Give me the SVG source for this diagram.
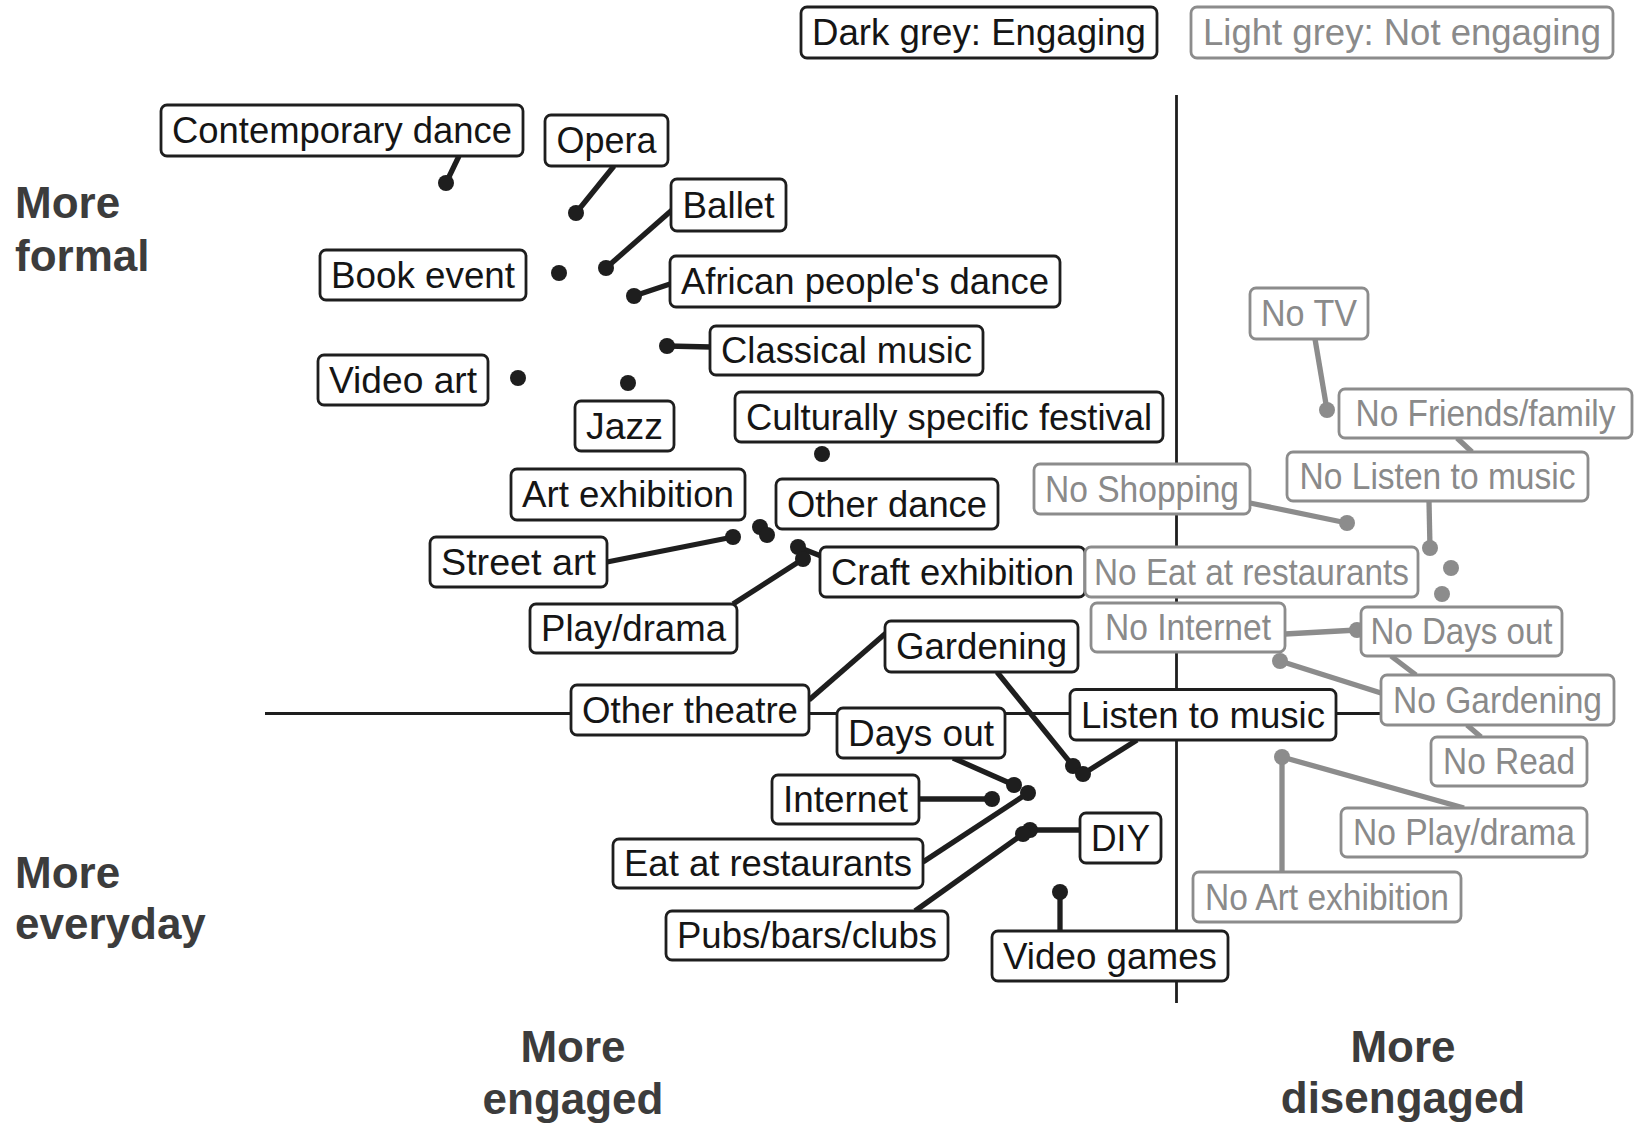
<svg xmlns="http://www.w3.org/2000/svg" width="1634" height="1125" viewBox="0 0 1634 1125">
<style>
.bd{fill:#fff;stroke:#1e1e1e;stroke-width:2.8}
.bl{fill:#fff;stroke:#8c8c8c;stroke-width:2.8}
.td{font-family:"Liberation Sans",Arial,sans-serif;font-size:36px;fill:#151515;text-anchor:middle}
.tl{font-family:"Liberation Sans",Arial,sans-serif;font-size:36px;fill:#8a8a8a;text-anchor:middle}
.ld{stroke:#1e1e1e;stroke-width:5.3;fill:none}
.ll{stroke:#8c8c8c;stroke-width:5.3;fill:none}
.dd{fill:#1e1e1e}
.dl{fill:#8c8c8c}
.ax{stroke:#1e1e1e;stroke-width:2.8}
.ti{font-family:"Liberation Sans",Arial,sans-serif;font-size:44px;font-weight:bold;fill:#3c3c3c}
</style>
<rect width="1634" height="1125" fill="#fff"/>
<g id="axes">
<line class="ax" x1="265" y1="713.5" x2="1390" y2="713.5"/>
<line class="ax" x1="1176.5" y1="95" x2="1176.5" y2="1003"/>
</g>
<g id="axis-titles">
<text class="ti" x="15" y="218">More</text>
<text class="ti" x="15" y="271">formal</text>
<text class="ti" x="15" y="888">More</text>
<text class="ti" x="15" y="939">everyday</text>
<text class="ti" x="573" y="1062" text-anchor="middle">More</text>
<text class="ti" x="573" y="1114" text-anchor="middle">engaged</text>
<text class="ti" x="1403" y="1062" text-anchor="middle">More</text>
<text class="ti" x="1403" y="1113" text-anchor="middle">disengaged</text>
</g>
<g id="connectors">
<line class="ld" x1="459" y1="156" x2="446" y2="183"/>
<line class="ld" x1="614" y1="166" x2="576" y2="213"/>
<line class="ld" x1="672" y1="210" x2="606" y2="268"/>
<line class="ld" x1="670" y1="284" x2="634" y2="296"/>
<line class="ld" x1="711" y1="347" x2="667" y2="346"/>
<line class="ld" x1="607" y1="562" x2="733" y2="537"/>
<line class="ld" x1="798" y1="547" x2="821" y2="556"/>
<line class="ld" x1="733" y1="604" x2="803" y2="559"/>
<line class="ld" x1="809" y1="700" x2="886" y2="633"/>
<line class="ld" x1="997" y1="672" x2="1073" y2="766"/>
<line class="ld" x1="1137" y1="740" x2="1083" y2="774"/>
<line class="ld" x1="953" y1="758" x2="1014" y2="785"/>
<line class="ld" x1="919" y1="799" x2="992" y2="799"/>
<line class="ld" x1="923" y1="862" x2="1028" y2="793"/>
<line class="ld" x1="1030" y1="830" x2="1080" y2="830"/>
<line class="ld" x1="915" y1="911" x2="1023" y2="834"/>
<line class="ld" x1="1060" y1="892" x2="1060" y2="931"/>
<line class="ll" x1="1315" y1="339" x2="1327" y2="410"/>
<line class="ll" x1="1457" y1="438" x2="1472" y2="452"/>
<line class="ll" x1="1429" y1="501" x2="1430" y2="548"/>
<line class="ll" x1="1250" y1="503" x2="1347" y2="523"/>
<line class="ll" x1="1285" y1="634" x2="1357" y2="630"/>
<line class="ll" x1="1391" y1="656" x2="1416" y2="675"/>
<line class="ll" x1="1381" y1="693" x2="1280" y2="661"/>
<line class="ll" x1="1467" y1="725" x2="1481" y2="737"/>
<line class="ll" x1="1464" y1="808" x2="1282" y2="757"/>
<line class="ll" x1="1282" y1="757" x2="1282" y2="872"/>
</g>
<g id="legend-engaging"><rect class="bd" x="801" y="7" width="356" height="51" rx="6"/><text class="td" x="979" y="45" textLength="334" lengthAdjust="spacingAndGlyphs">Dark grey: Engaging</text></g>
<g id="legend-not-engaging"><rect class="bl" x="1191" y="7" width="422" height="51" rx="6"/><text class="tl" x="1402" y="45" textLength="398" lengthAdjust="spacingAndGlyphs">Light grey: Not engaging</text></g>

<g id="contemporary-dance"><circle class="dd" cx="446" cy="183" r="8"/><rect class="bd" x="161" y="105" width="362" height="51" rx="6"/><text class="td" x="342" y="143" textLength="340" lengthAdjust="spacingAndGlyphs">Contemporary dance</text></g>
<g id="opera"><circle class="dd" cx="576" cy="213" r="8"/><rect class="bd" x="545" y="115" width="123" height="51" rx="6"/><text class="td" x="606.5" y="153" textLength="100" lengthAdjust="spacingAndGlyphs">Opera</text></g>
<g id="ballet"><circle class="dd" cx="606" cy="268" r="8"/><rect class="bd" x="671" y="179" width="115" height="52" rx="6"/><text class="td" x="728.5" y="217.5" textLength="92" lengthAdjust="spacingAndGlyphs">Ballet</text></g>
<g id="book-event"><circle class="dd" cx="559" cy="273" r="8"/><rect class="bd" x="320" y="250" width="206" height="50" rx="6"/><text class="td" x="423" y="287.5" textLength="184" lengthAdjust="spacingAndGlyphs">Book event</text></g>
<g id="african-peoples-dance"><circle class="dd" cx="634" cy="296" r="8"/><rect class="bd" x="670" y="256" width="390" height="51" rx="6"/><text class="td" x="865" y="294" textLength="368" lengthAdjust="spacingAndGlyphs">African people's dance</text></g>
<g id="classical-music"><circle class="dd" cx="667" cy="346" r="8"/><rect class="bd" x="710" y="326" width="273" height="49" rx="6"/><text class="td" x="846.5" y="363" textLength="251" lengthAdjust="spacingAndGlyphs">Classical music</text></g>
<g id="video-art"><circle class="dd" cx="518" cy="378" r="8"/><rect class="bd" x="318" y="355" width="170" height="50" rx="6"/><text class="td" x="403" y="392.5" textLength="148" lengthAdjust="spacingAndGlyphs">Video art</text></g>
<g id="jazz"><circle class="dd" cx="628" cy="383" r="8"/><rect class="bd" x="575" y="401" width="99" height="50" rx="6"/><text class="td" x="624.5" y="438.5" textLength="77" lengthAdjust="spacingAndGlyphs">Jazz</text></g>
<g id="culturally-specific-festival"><circle class="dd" cx="822" cy="454" r="8"/><rect class="bd" x="735" y="392" width="428" height="50" rx="6"/><text class="td" x="949" y="429.5" textLength="406" lengthAdjust="spacingAndGlyphs">Culturally specific festival</text></g>
<g id="art-exhibition"><circle class="dd" cx="760" cy="527" r="8"/><rect class="bd" x="511" y="469" width="234" height="51" rx="6"/><text class="td" x="628" y="507" textLength="212" lengthAdjust="spacingAndGlyphs">Art exhibition</text></g>
<g id="other-dance"><circle class="dd" cx="767" cy="535" r="8"/><rect class="bd" x="776" y="479" width="222" height="50" rx="6"/><text class="td" x="887" y="516.5" textLength="200" lengthAdjust="spacingAndGlyphs">Other dance</text></g>
<g id="street-art"><circle class="dd" cx="733" cy="537" r="8"/><rect class="bd" x="430" y="537" width="177" height="50" rx="6"/><text class="td" x="518.5" y="574.5" textLength="155" lengthAdjust="spacingAndGlyphs">Street art</text></g>
<g id="craft-exhibition"><circle class="dd" cx="798" cy="547" r="8"/><rect class="bd" x="820" y="547" width="265" height="50" rx="6"/><text class="td" x="952.5" y="584.5" textLength="243" lengthAdjust="spacingAndGlyphs">Craft exhibition</text></g>
<g id="play-drama"><circle class="dd" cx="803" cy="559" r="8"/><rect class="bd" x="530" y="604" width="207" height="49" rx="6"/><text class="td" x="633.5" y="641" textLength="185" lengthAdjust="spacingAndGlyphs">Play/drama</text></g>
<g id="gardening"><circle class="dd" cx="1073" cy="766" r="8"/><rect class="bd" x="885" y="621" width="193" height="51" rx="6"/><text class="td" x="981.5" y="659" textLength="171" lengthAdjust="spacingAndGlyphs">Gardening</text></g>
<g id="other-theatre"><rect class="bd" x="571" y="685" width="238" height="50" rx="6"/><text class="td" x="690" y="722.5" textLength="216" lengthAdjust="spacingAndGlyphs">Other theatre</text></g>
<g id="days-out"><circle class="dd" cx="1014" cy="785" r="8"/><rect class="bd" x="837" y="708" width="168" height="50" rx="6"/><text class="td" x="921" y="745.5" textLength="146" lengthAdjust="spacingAndGlyphs">Days out</text></g>
<g id="listen-to-music"><circle class="dd" cx="1083" cy="774" r="8"/><rect class="bd" x="1070" y="689.5" width="266" height="50.5" rx="6"/><text class="td" x="1203" y="727.5" textLength="244" lengthAdjust="spacingAndGlyphs">Listen to music</text></g>
<g id="internet"><circle class="dd" cx="992" cy="799" r="8"/><rect class="bd" x="772" y="775" width="147" height="49" rx="6"/><text class="td" x="845.5" y="812" textLength="125" lengthAdjust="spacingAndGlyphs">Internet</text></g>
<g id="eat-at-restaurants"><circle class="dd" cx="1028" cy="793" r="8"/><rect class="bd" x="613" y="839" width="310" height="49" rx="6"/><text class="td" x="768" y="876" textLength="288" lengthAdjust="spacingAndGlyphs">Eat at restaurants</text></g>
<g id="diy"><circle class="dd" cx="1030" cy="830" r="8"/><rect class="bd" x="1080" y="813" width="81" height="50" rx="6"/><text class="td" x="1120.5" y="850.5" textLength="59" lengthAdjust="spacingAndGlyphs">DIY</text></g>
<g id="pubs-bars-clubs"><circle class="dd" cx="1023" cy="834" r="8"/><rect class="bd" x="666" y="911" width="282" height="49" rx="6"/><text class="td" x="807" y="948" textLength="260" lengthAdjust="spacingAndGlyphs">Pubs/bars/clubs</text></g>
<g id="video-games"><circle class="dd" cx="1060" cy="892" r="8"/><rect class="bd" x="992" y="931" width="236" height="50" rx="6"/><text class="td" x="1110" y="968.5" textLength="214" lengthAdjust="spacingAndGlyphs">Video games</text></g>

<g id="no-tv"><circle class="dl" cx="1327" cy="410" r="8"/><rect class="bl" x="1250" y="288" width="118" height="51" rx="6"/><text class="tl" x="1309" y="326" textLength="96" lengthAdjust="spacingAndGlyphs">No TV</text></g>
<g id="no-friends-family"><rect class="bl" x="1339" y="389" width="293" height="49" rx="6"/><text class="tl" x="1485.5" y="426" textLength="260" lengthAdjust="spacingAndGlyphs">No Friends/family</text></g>
<g id="no-listen-to-music"><circle class="dl" cx="1430" cy="548" r="8"/><rect class="bl" x="1287" y="452" width="301" height="49" rx="6"/><text class="tl" x="1437.5" y="489" textLength="276" lengthAdjust="spacingAndGlyphs">No Listen to music</text></g>
<g id="no-shopping"><circle class="dl" cx="1347" cy="523" r="8"/><rect class="bl" x="1034" y="464" width="216" height="50" rx="6"/><text class="tl" x="1142" y="501.5" textLength="194" lengthAdjust="spacingAndGlyphs">No Shopping</text></g>
<g id="no-eat-at-restaurants"><circle class="dl" cx="1451" cy="568" r="8"/><circle class="dl" cx="1442" cy="594" r="8"/><rect class="bl" x="1085" y="547" width="333" height="50" rx="6"/><text class="tl" x="1251.5" y="584.5" textLength="315" lengthAdjust="spacingAndGlyphs">No Eat at restaurants</text></g>
<g id="no-internet"><circle class="dl" cx="1357" cy="630" r="8"/><rect class="bl" x="1091" y="603" width="194" height="49" rx="6"/><text class="tl" x="1188" y="640" textLength="166" lengthAdjust="spacingAndGlyphs">No Internet</text></g>
<g id="no-days-out"><rect class="bl" x="1361" y="607" width="201" height="49" rx="6"/><text class="tl" x="1461.5" y="644" textLength="182" lengthAdjust="spacingAndGlyphs">No Days out</text></g>
<g id="no-gardening"><circle class="dl" cx="1280" cy="661" r="8"/><rect class="bl" x="1381" y="675" width="233" height="50" rx="6"/><text class="tl" x="1497.5" y="712.5" textLength="209" lengthAdjust="spacingAndGlyphs">No Gardening</text></g>
<g id="no-read"><rect class="bl" x="1431" y="737" width="156" height="49" rx="6"/><text class="tl" x="1509" y="774" textLength="132" lengthAdjust="spacingAndGlyphs">No Read</text></g>
<g id="no-play-drama"><circle class="dl" cx="1282" cy="757" r="8"/><rect class="bl" x="1341" y="808" width="246" height="49" rx="6"/><text class="tl" x="1464" y="845" textLength="222" lengthAdjust="spacingAndGlyphs">No Play/drama</text></g>
<g id="no-art-exhibition"><rect class="bl" x="1193" y="872" width="268" height="50" rx="6"/><text class="tl" x="1327" y="909.5" textLength="244" lengthAdjust="spacingAndGlyphs">No Art exhibition</text></g>
</svg>
